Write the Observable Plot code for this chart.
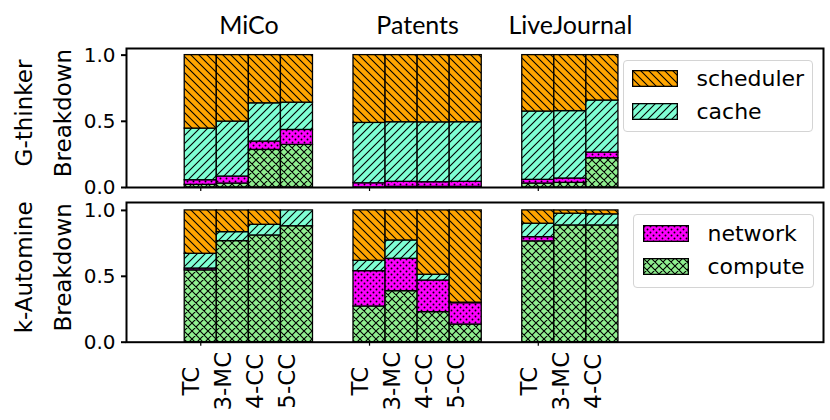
<!DOCTYPE html>
<html>
<head>
<meta charset="utf-8">
<script src="https://cdn.jsdelivr.net/npm/d3@7"></script>
<script src="https://cdn.jsdelivr.net/npm/@observablehq/plot@0.6"></script>
<style>
  body { margin: 0; background: #fff; }
  #chart { position: relative; width: 830px; height: 420px; font-family: "DejaVu Sans", sans-serif; background: #fff; }
  .plot { position: absolute; left: 0; }
  .legend { position: absolute; border: 1px solid #d4d4d4; border-radius: 4px; background: rgba(255,255,255,0.85); box-sizing: border-box; }
  .item { position: absolute; height: 17px; display: flex; align-items: center; font-size: 22px; color: #000; white-space: nowrap; }
  .item svg { flex: none; }
  .item span { margin-left: 19px; line-height: 17px; }
</style>
</head>
<body>
<svg width="0" height="0" style="position:absolute">
  <defs>
    <pattern id="p-scheduler" patternUnits="userSpaceOnUse" width="8" height="8">
      <rect width="8" height="8" fill="#FFA500"/>
      <path d="M0,0 L8,8 M-2,6 L2,10 M6,-2 L10,2" stroke="#000" stroke-width="1.1"/>
    </pattern>
    <pattern id="p-cache" patternUnits="userSpaceOnUse" width="8" height="8">
      <rect width="8" height="8" fill="#7FFFD4"/>
      <path d="M0,8 L8,0 M-2,2 L2,-2 M6,10 L10,6" stroke="#000" stroke-width="1.1"/>
    </pattern>
    <pattern id="p-compute" patternUnits="userSpaceOnUse" width="8" height="8">
      <rect width="8" height="8" fill="#90EE90"/>
      <path d="M0,0 L8,8 M-2,6 L2,10 M6,-2 L10,2 M0,8 L8,0 M-2,2 L2,-2 M6,10 L10,6" stroke="#000" stroke-width="1.1"/>
    </pattern>
    <pattern id="p-network" patternUnits="userSpaceOnUse" width="6" height="6">
      <rect width="6" height="6" fill="#FF00FF"/>
      <circle cx="1.5" cy="1.5" r="0.95" fill="#000"/>
      <circle cx="4.5" cy="4.5" r="0.95" fill="#000"/>
    </pattern>
  </defs>
</svg>
<div id="chart"></div>
<script>
// ---- data ----
const groups = ["MiCo", "Patents", "LiveJournal"];
const appsMiCo = ["TC", "3-MC", "4-CC", "5-CC"];
const appsPatents = ["TC", "3-MC", "4-CC", "5-CC"];
const appsLiveJournal = ["TC", "3-MC", "4-CC"];
const components = ["compute", "network", "cache", "scheduler"]; // bottom -> top
const yTicks = [0, 0.5, 1.0];
const legendTop = ["scheduler", "cache"];
const legendBottom = ["network", "compute"];
const panelLabels = [["G-thinker", "Breakdown"], ["k-Automine", "Breakdown"]];

// fractions [compute, network, cache, scheduler]
const gthinkerMiCo = [[0.02, 0.035, 0.39, 0.555], [0.03, 0.053, 0.415, 0.502], [0.284, 0.063, 0.289, 0.364], [0.322, 0.113, 0.206, 0.359]];
const gthinkerPatents = [[0.0, 0.032, 0.456, 0.512], [0.005, 0.038, 0.45, 0.507], [0.005, 0.035, 0.452, 0.508], [0.005, 0.038, 0.45, 0.507]];
const gthinkerLiveJournal = [[0.03, 0.028, 0.516, 0.426], [0.035, 0.033, 0.509, 0.423], [0.221, 0.043, 0.393, 0.343]];

const kautomineMiCo = [[0.545, 0.014, 0.112, 0.329], [0.767, 0.0, 0.068, 0.165], [0.81, 0.0, 0.081, 0.109], [0.88, 0.0, 0.12, 0.0]];
const kautominePatents = [[0.271, 0.268, 0.079, 0.382], [0.387, 0.246, 0.139, 0.228], [0.228, 0.24, 0.044, 0.488], [0.134, 0.162, 0.004, 0.7]];
const kautomineLiveJournal = [[0.765, 0.032, 0.102, 0.101], [0.886, 0.0, 0.089, 0.025], [0.886, 0.0, 0.084, 0.03]];

// ---- tables ----
const apps = [appsMiCo, appsPatents, appsLiveJournal];
const step = 0.19;
function buildRows(values) {
  const rows = [];
  values.forEach((grp, g) => grp.forEach((bar, j) => {
    let acc = 0;
    bar.forEach((v, k) => {
      rows.push({group: groups[g], app: apps[g][j], comp: components[k],
                 x1: g + (j - 0.5) * step, x2: g + (j + 0.5) * step, y1: acc, y2: acc + v});
      acc += v;
    });
  }));
  return rows;
}
const topRows = buildRows([gthinkerMiCo, gthinkerPatents, gthinkerLiveJournal]);
const botRows = buildRows([kautomineMiCo, kautominePatents, kautomineLiveJournal]);
const bars = [];
apps.forEach((list, g) => list.forEach((a, j) => bars.push({app: a, xc: g + j * step})));

const colorScale = {domain: components, range: components.map(c => `url(#p-${c})`)};
const xDomain = [-0.44, 3.69];
const style = {fontFamily: "DejaVu Sans", background: "white", color: "black", overflow: "visible"};

function commonMarks(rows, labels) {
  return [
    Plot.rect(rows, {x1: "x1", x2: "x2", y1: "y1", y2: "y2", fill: "comp", stroke: "black", strokeWidth: 1.3}),
    Plot.frame({stroke: "black", strokeWidth: 2}),
    Plot.axisY({ticks: yTicks, tickFormat: d => d.toFixed(1), tickSize: 5, tickPadding: 6, fontSize: 20, strokeWidth: 2, label: null}),
    Plot.axisX({ticks: [0, 1, 2], tickFormat: () => "", tickSize: 4, strokeWidth: 1.2, label: null}),
    Plot.text([labels[0]], {text: d => d, frameAnchor: "left", textAnchor: "middle", lineAnchor: "middle", dx: -102, dy: -5, rotate: -90, fontSize: 23}),
    Plot.text([labels[1]], {text: d => d, frameAnchor: "left", textAnchor: "middle", lineAnchor: "middle", dx: -63, dy: -5, rotate: -90, fontSize: 23})
  ];
}

const topPlot = Plot.plot({
  width: 830, height: 195,
  marginLeft: 126, marginRight: 7, marginTop: 48, marginBottom: 8,
  x: {domain: xDomain},
  y: {domain: [0, 1.05]},
  color: colorScale,
  style,
  marks: [
    ...commonMarks(topRows, panelLabels[0]),
    Plot.text(groups, {text: d => d, x: (d, i) => i + (apps[i].length - 1) / 2 * step,
      frameAnchor: "top", lineAnchor: "middle", dy: -23, fontSize: 25, fontFamily: "Lato"})
  ]
});

const botPlot = Plot.plot({
  width: 830, height: 225,
  marginLeft: 126, marginRight: 7, marginTop: 7, marginBottom: 78.3,
  x: {domain: xDomain},
  y: {domain: [0, 1.06]},
  color: colorScale,
  style,
  marks: [
    ...commonMarks(botRows, panelLabels[1]),
    Plot.text(bars, {x: "xc", text: "app", frameAnchor: "bottom", textAnchor: "middle", lineAnchor: "middle", dy: 39, dx: -9, rotate: -90, fontSize: 23})
  ]
});

const chart = document.getElementById("chart");
topPlot.classList.add("plot"); topPlot.style.top = "0px";
botPlot.classList.add("plot"); botPlot.style.top = "195px";
chart.appendChild(topPlot);
chart.appendChild(botPlot);

function makeLegend(items, box) {
  const div = document.createElement("div");
  div.className = "legend";
  Object.assign(div.style, {left: box.left + "px", top: box.top + "px", width: box.width + "px", height: box.height + "px"});
  items.forEach((name, i) => {
    const it = document.createElement("div");
    it.className = "item";
    it.style.left = box.padX + "px";
    it.style.top = (box.padY + i * box.gap) + "px";
    it.innerHTML = `<svg width="46" height="17"><rect x="0.65" y="0.65" width="44.7" height="15.7" fill="url(#p-${name})" stroke="black" stroke-width="1.3"/></svg><span>${name}</span>`;
    div.appendChild(it);
  });
  chart.appendChild(div);
}
makeLegend(legendTop, {left: 622.5, top: 60, width: 190.5, height: 72, padX: 8, padY: 9, gap: 33});
makeLegend(legendBottom, {left: 632.5, top: 214, width: 181, height: 73.5, padX: 9, padY: 10, gap: 33.3});
</script>
</body>
</html>
